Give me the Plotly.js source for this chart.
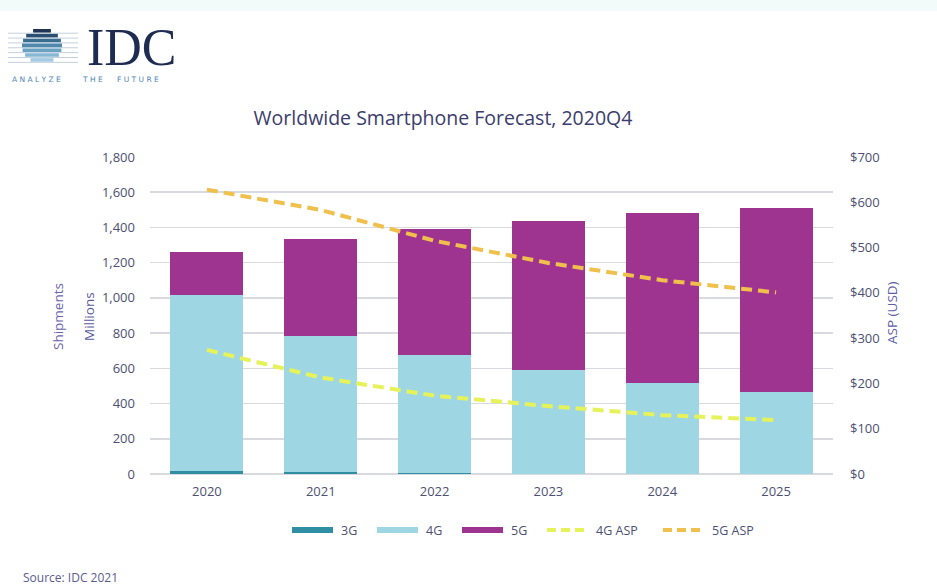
<!DOCTYPE html>
<html><head><meta charset="utf-8">
<script src="https://cdn.plot.ly/plotly-3.0.1.min.js"></script>
<style>html,body{margin:0;padding:0;background:#fff;} #chart{width:937px;height:585px;}</style>
</head><body><div id="chart"></div>
<script>
// ---- data ----
const years = ['2020', '2021', '2022', '2023', '2024', '2025'];
const shipments3G = [18, 10, 5, 2, 1, 0.5];
const shipments4G = [999, 774, 671, 589, 518, 467];
const shipments5G = [246, 551, 714, 846, 962, 1045];
const asp4G = [274, 213, 173, 150, 130, 119];
const asp5G = [628, 583, 515, 466, 428, 401];
const leftTicks = [0, 200, 400, 600, 800, 1000, 1200, 1400, 1600, 1800];
const leftTickText = ['0', '200', '400', '600', '800', '1,000', '1,200', '1,400', '1,600', '1,800'];
const rightTicks = [0, 100, 200, 300, 400, 500, 600, 700];
const rightTickText = ['$0', '$100', '$200', '$300', '$400', '$500', '$600', '$700'];
const seriesNames = ['3G', '4G', '5G', '4G ASP', '5G ASP'];

// ---- styles ----
const C3G = '#2f8ea3', C4G = '#9fd6e3', C5G = '#9f3490', CA4 = '#e6f25a', CA5 = '#f0c04c';
const TXT = '#4d4f73', FONT = 'Open Sans, Noto Sans, sans-serif';
const W = 937, H = 585, L = 150, R = 833, T = 157, B = 474;
const px = x => (x - L) / (R - L);
const py = y => (B - y) / (B - T);

const traces = [
  {type: 'bar', name: seriesNames[0], x: years, y: shipments3G, marker: {color: C3G}},
  {type: 'bar', name: seriesNames[1], x: years, y: shipments4G, marker: {color: C4G}},
  {type: 'bar', name: seriesNames[2], x: years, y: shipments5G, marker: {color: C5G}},
  {type: 'scatter', mode: 'lines', name: seriesNames[3], x: years, y: asp4G, yaxis: 'y2',
   line: {color: CA4, width: 4, dash: '11px,6px'}},
  {type: 'scatter', mode: 'lines', name: seriesNames[4], x: years, y: asp5G, yaxis: 'y2',
   line: {color: CA5, width: 4, dash: '11px,6px'}}
];

const shapes = [];
const annotations = [];

// faint band at the top
shapes.push({type: 'rect', xref: 'paper', yref: 'paper', x0: px(0), x1: px(W), y0: py(0), y1: py(11),
  fillcolor: '#f3fafa', line: {width: 0}, layer: 'below'});

// ---- logo: striped globe ----
const gcx = 42, gcy = 46, grx = 20, gry = 17;
const bandCols = ['#1f3553', '#2a4f72', '#3a6d92', '#4f88ad', '#6aa2c4', '#86b8d6', '#a3cbe3'];
const nb = bandCols.length, bandH = (2 * gry) / nb;
for (let i = 0; i < nb; i++) {
  const y0 = gcy - gry + i * bandH, y1 = y0 + bandH - 1.3;
  shapes.push({type: 'line', xref: 'paper', yref: 'paper', x0: px(8), x1: px(78),
    y0: py(y1 + 0.65), y1: py(y1 + 0.65), line: {color: '#c3d0dc', width: 1}});
}
for (let i = 0; i < nb; i++) {
  const y0 = gcy - gry + i * bandH, y1 = y0 + bandH - 1.3;
  const ym = (y0 + y1) / 2;
  const t = (ym - gcy) / gry;
  const hw = grx * Math.sqrt(Math.max(1 - t * t, 0));
  shapes.push({type: 'rect', xref: 'paper', yref: 'paper', x0: px(gcx - hw), x1: px(gcx + hw),
    y0: py(y1), y1: py(y0), fillcolor: bandCols[i], line: {width: 0}});
}
annotations.push({xref: 'paper', yref: 'paper', x: px(85), y: py(48), xanchor: 'left', yanchor: 'middle',
  text: 'IDC', showarrow: false, font: {family: 'Liberation Serif, DejaVu Serif, serif', size: 52, color: '#1e2c52'}});
const tag = [['A N A L Y Z E', 10], ['T H E', 80], ['F U T U R E', 115]];
tag.forEach(([t, x]) => annotations.push({xref: 'paper', yref: 'paper', x: px(x), y: py(80), xanchor: 'left', yanchor: 'middle',
  text: t, showarrow: false, font: {family: 'DejaVu Sans, sans-serif', size: 7.5, color: '#4f86b8'}}));

// ---- axis titles ----
annotations.push({xref: 'paper', yref: 'paper', x: px(47), y: py(317), text: 'Shipments', textangle: -90,
  showarrow: false, font: {family: FONT, size: 13.5, color: '#6a62b0'}});
annotations.push({xref: 'paper', yref: 'paper', x: px(78), y: py(317), text: 'Millions', textangle: -90,
  showarrow: false, font: {family: FONT, size: 13.5, color: '#5a5a9a'}});
annotations.push({xref: 'paper', yref: 'paper', x: px(903), y: py(313), text: 'ASP (USD)', textangle: -90,
  showarrow: false, font: {family: FONT, size: 13.5, color: '#5d5fa6'}});

// ---- source ----
annotations.push({xref: 'paper', yref: 'paper', x: px(21), y: py(577), xanchor: 'left', yanchor: 'middle',
  text: 'Source: IDC 2021', showarrow: false, font: {family: FONT, size: 12, color: '#5a5c8e'}});

// ---- custom legend ----
const legY = 530;
const legItems = [
  {name: seriesNames[0], x: 292, kind: 'bar', color: C3G},
  {name: seriesNames[1], x: 377, kind: 'bar', color: C4G},
  {name: seriesNames[2], x: 462, kind: 'bar', color: C5G},
  {name: seriesNames[3], x: 547, kind: 'line', color: CA4},
  {name: seriesNames[4], x: 663, kind: 'line', color: CA5}
];
legItems.forEach(it => {
  if (it.kind === 'bar') {
    shapes.push({type: 'rect', xref: 'paper', yref: 'paper', x0: px(it.x), x1: px(it.x + 41),
      y0: py(legY + 3), y1: py(legY - 3), fillcolor: it.color, line: {width: 0}});
  } else {
    shapes.push({type: 'line', xref: 'paper', yref: 'paper', x0: px(it.x), x1: px(it.x + 41),
      y0: py(legY), y1: py(legY), line: {color: it.color, width: 4, dash: '9px,5px'}});
  }
  annotations.push({xref: 'paper', yref: 'paper', x: px(it.x + 47), y: py(legY), xanchor: 'left', yanchor: 'middle',
    text: it.name, showarrow: false, font: {family: FONT, size: 12.5, color: TXT}});
});

const layout = {
  width: W, height: H,
  margin: {l: L, r: W - R, t: T, b: H - B, pad: 0},
  paper_bgcolor: '#ffffff', plot_bgcolor: '#ffffff',
  showlegend: false,
  barmode: 'stack', bargap: 0.36,
  font: {family: FONT, color: TXT},
  title: {text: 'Worldwide Smartphone Forecast, 2020Q4', xref: 'container', yref: 'container',
    x: 443 / W, xanchor: 'center', y: 1 - 118 / H, yanchor: 'middle',
    font: {family: FONT, size: 19.5, color: '#3b3d6c'}},
  xaxis: {type: 'category', showgrid: false, showline: false, zeroline: false, ticks: '',
    tickfont: {family: FONT, size: 13, color: TXT}, ticklabelstandoff: 8},
  yaxis: {range: [0, 1800], tickmode: 'array', tickvals: leftTicks, ticktext: leftTickText,
    showgrid: true, gridcolor: '#d9d9e0', gridwidth: 1.5, zeroline: true, zerolinecolor: '#d9d9e0', zerolinewidth: 1.5,
    showline: false, ticks: '', ticklabelstandoff: 14, tickfont: {family: FONT, size: 13, color: TXT}},
  yaxis2: {range: [0, 700], tickmode: 'array', tickvals: rightTicks, ticktext: rightTickText,
    overlaying: 'y', side: 'right',
    showgrid: false, zeroline: false, showline: false, ticks: '', ticklabelstandoff: 16,
    tickfont: {family: FONT, size: 13, color: TXT}},
  shapes: shapes,
  annotations: annotations
};

Plotly.newPlot('chart', traces, layout, {displayModeBar: false, staticPlot: true});
</script>
</body></html>
